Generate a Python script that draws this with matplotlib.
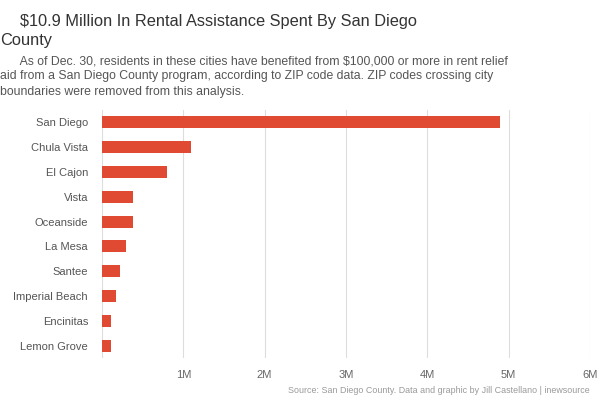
import matplotlib
matplotlib.use('Agg')
import matplotlib.pyplot as plt
from matplotlib.ticker import FuncFormatter

cities = ['San Diego', 'Chula Vista', 'El Cajon', 'Vista', 'Oceanside',
          'La Mesa', 'Santee', 'Imperial Beach', 'Encinitas', 'Lemon Grove']
amounts = [4900000, 1100000, 800000, 380000, 380000,
           300000, 220000, 170000, 110000, 110000]
ticks = [0, 1000000, 2000000, 3000000, 4000000, 5000000, 6000000]

plt.rcParams['font.family'] = ['Liberation Sans', 'DejaVu Sans']

fig = plt.figure(figsize=(6, 4), dpi=100)
ax = fig.add_axes([0.17, 0.105, 0.813, 0.62])

y = list(range(len(cities)))
ax.barh(y, amounts, height=0.48, color='#e04a33', zorder=3)
ax.set_yticks(y)
ax.set_yticklabels(cities)
ax.set_ylim(len(cities) - 0.5, -0.5)
ax.set_xlim(0, 6000000)
ax.set_xticks(ticks)
ax.xaxis.set_major_formatter(FuncFormatter(lambda v, p: '' if v == 0 else f'{int(v / 1e6)}M'))
ax.grid(axis='x', color='#dddddd', linewidth=0.8, zorder=0)
for s in ax.spines.values():
    s.set_visible(False)
ax.tick_params(axis='both', length=0, labelsize=8, labelcolor='#555555')
ax.tick_params(axis='x', pad=9, labelcolor='#666666')
ax.tick_params(axis='y', pad=10)

fig.text(0.033, 0.966, '$10.9 Million In Rental Assistance Spent By San Diego',
         fontsize=11.8, color='#333333', va='top')
fig.text(0.0, 0.918, 'County', fontsize=11.8, color='#333333', va='top')
fig.text(0.0, 0.862,
         '      As of Dec. 30, residents in these cities have benefited from $100,000 or more in rent relief\n'
         'aid from a San Diego County program, according to ZIP code data. ZIP codes crossing city\n'
         'boundaries were removed from this analysis.',
         fontsize=8.8, color='#555555', va='top', linespacing=1.36)
fig.text(0.983, 0.012, 'Source: San Diego County. Data and graphic by Jill Castellano | inewsource',
         fontsize=6.4, color='#999999', ha='right', va='bottom')

fig.savefig('out.png', dpi=100, facecolor='white')
